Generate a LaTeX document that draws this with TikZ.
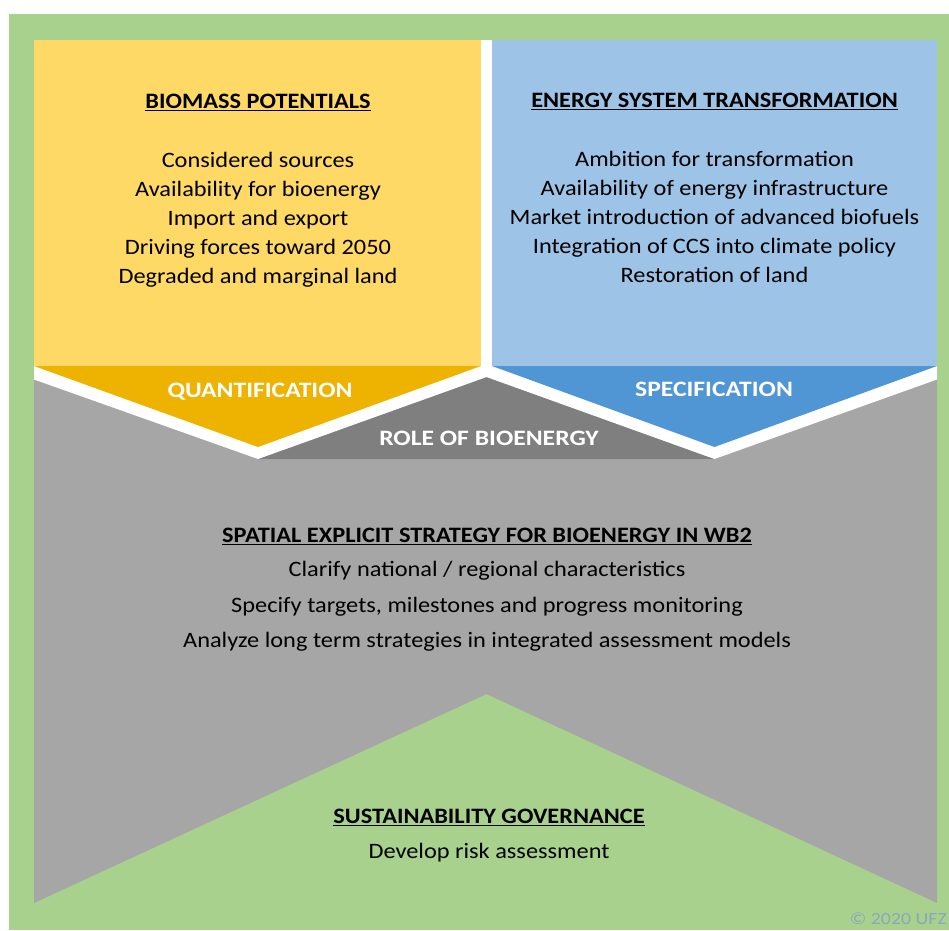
\documentclass[tikz,border=0pt]{standalone}
\usepackage{fontspec}
\usepackage{graphicx}
\setmainfont{Carlito}

% underlined heading: text with a solid rule just under the baseline
\newsavebox{\headbox}
\newcommand{\uheading}[1]{\sbox{\headbox}{#1}\rlap{\usebox{\headbox}}\rule[-3.4pt]{\wd\headbox}{1.6pt}}
% the lettering is set a little wide
\newcommand{\wide}[1]{\scalebox{1.107}[1]{#1}}
\newcommand{\widetag}[1]{\scalebox{1.165}[1]{#1}}

\definecolor{leaf}{HTML}{A9D18E}
\definecolor{sunlight}{HTML}{FFD966}
\definecolor{sundeep}{HTML}{EDB300}
\definecolor{skylight}{HTML}{9DC3E6}
\definecolor{skydeep}{HTML}{5096D5}
\definecolor{stonelight}{HTML}{A6A6A6}
\definecolor{stonedeep}{HTML}{7F7F7F}
\definecolor{creditgray}{HTML}{8CA6BC}

\begin{document}
\begin{tikzpicture}[x=1pt,y=-1pt,
  body/.style={font=\fontsize{22}{26}\selectfont, anchor=base, inner sep=0pt},
  head/.style={font=\fontsize{22}{26}\selectfont\bfseries, anchor=base, inner sep=0pt},
  tag/.style={font=\fontsize{22}{26}\selectfont\bfseries, text=white, anchor=base, inner sep=0pt}]
\useasboundingbox (0,0) rectangle (949,930);

% page background and green frame
\fill[white] (0,0) rectangle (949,930);
\fill[leaf] (9,14) rectangle (949,930);

% grey base with the upward notch at the bottom
\fill[stonelight] (34,366) -- (937,366) -- (937,903) -- (486.5,694) -- (34,903) -- cycle;
% darker grey wedge between the two chevrons
\fill[stonedeep] (258,459) -- (486.5,377) -- (714.5,459) -- cycle;

% white separating band under the two chevrons
\fill[white] (34,366) -- (34,379.5) -- (258,459) -- (486.5,377) -- (714.5,459)
  -- (937,379.5) -- (937,366) -- cycle;
\fill[white] (481,40) rectangle (492,372);

% yellow chevron
\fill[sunlight] (34,40) rectangle (481,366);
\fill[sundeep] (34,366) -- (481,366) -- (258,447) -- cycle;

% blue chevron
\fill[skylight] (492,40) rectangle (937,366);
\fill[skydeep] (492,366) -- (937,366) -- (714.5,447) -- cycle;

% biomass potentials
\node[head] (bioHead) at (258,108) {\wide{\uheading{BIOMASS POTENTIALS}}};
\foreach \t [count=\i] in {Considered sources, Availability for bioenergy,
    Import and export, Driving forces toward 2050, Degraded and marginal land}
  \node[body] (bio\i) at (258,{167+29.2*(\i-1)}) {\wide{\t}};

% energy system transformation
\node[head] (enHead) at (714.5,107) {\wide{\uheading{ENERGY SYSTEM TRANSFORMATION}}};
\foreach \t [count=\i] in {Ambition for transformation, Availability of energy infrastructure,
    Market introduction of advanced biofuels, Integration of CCS into climate policy,
    Restoration of land}
  \node[body] (en\i) at (714.5,{166+29.2*(\i-1)}) {\wide{\t}};

% labels on the chevron tips
\node[tag] (quant) at (260,397) {\widetag{QUANTIFICATION}};
\node[tag] (spec) at (714,396) {\widetag{SPECIFICATION}};
\node[tag] (role) at (489,445) {\widetag{ROLE OF BIOENERGY}};

% spatial strategy
\node[head] (spHead) at (487,542) {\wide{\uheading{SPATIAL EXPLICIT STRATEGY FOR BIOENERGY IN WB2}}};
\node[body] (sp1) at (487,576) {\wide{Clarify national / regional characteristics}};
\node[body] (sp2) at (487,612) {\wide{Specify targets, milestones and progress monitoring}};
\node[body] (sp3) at (487,647) {\wide{Analyze long term strategies in integrated assessment models}};

% sustainability governance
\node[head] (suHead) at (489,823) {\wide{\uheading{SUSTAINABILITY GOVERNANCE}}};
\node[body] (su1) at (489,858) {\wide{Develop risk assessment}};

% credit line
\node[font=\fontsize{17}{19}\selectfont, text=creditgray, anchor=base east, inner sep=0pt]
  (credit) at (947,924) {\scalebox{1.17}[1]{© 2020 UFZ}};
\end{tikzpicture}
\end{document}
